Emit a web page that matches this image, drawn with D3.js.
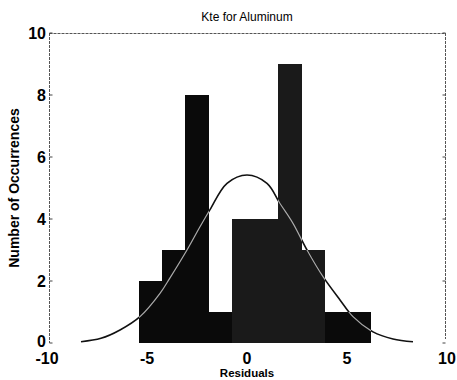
<!DOCTYPE html>
<html><head><meta charset="utf-8">
<script src="https://cdn.jsdelivr.net/npm/d3@7"></script>
<style>body{margin:0;background:#fff}svg{display:block}text{font-family:"Liberation Sans",Arial,sans-serif;fill:#000}</style>
</head><body><svg id="c" width="457" height="380"></svg>
<script>
const binEdges = [-5.4, -4.25, -3.1, -1.9, -0.75, 0.4, 1.55, 2.75, 3.9, 5.05, 6.2];
const counts = [2, 3, 8, 1, 4, 4, 9, 3, 1, 1];
const curveX = [-8.3, -7.3, -6.35, -5.35, -4.35, -3.85, -3.0, -2.35, -1.85, -1.0, 0, 1.0, 1.65, 2.3, 3.0, 3.8, 4.65, 5.3, 6.3, 7.3, 8.3];
const curveY = [0.04, 0.15, 0.42, 0.85, 1.6, 2.1, 3.0, 3.75, 4.3, 5.15, 5.42, 5.15, 4.5, 3.86, 3.0, 2.14, 1.39, 0.85, 0.36, 0.13, 0.04];
const xTicks = [-10, -5, 0, 5, 10];
const yTicks = [0, 2, 4, 6, 8, 10];
const title = "Kte for Aluminum", xLabel = "Residuals", yLabel = "Number of Occurrences";

const svg = d3.select("#c");
const x = d3.scaleLinear().domain([-10, 10]).range([47, 447]);
const y = d3.scaleLinear().domain([0, 10]).range([343, 33]);

const bins = counts.map((c, i) => ({x0: binEdges[i], x1: binEdges[i + 1], c}));

const defs = svg.append("defs");
const clip = defs.append("clipPath").attr("id", "barclip");
clip.selectAll("rect").data(bins).join("rect")
  .attr("x", d => x(d.x0)).attr("y", d => y(d.c))
  .attr("width", d => x(d.x1) - x(d.x0)).attr("height", d => y(0) - y(d.c));

const frame = svg.append("g").attr("stroke", "#555").attr("stroke-width", 1).attr("stroke-dasharray", "3,1").attr("fill", "none");
frame.append("line").attr("x1", 49.5).attr("x2", 49.5).attr("y1", y(10)).attr("y2", y(0));
frame.append("line").attr("x1", 445.5).attr("x2", 445.5).attr("y1", y(10)).attr("y2", y(0) - 4);
frame.append("line").attr("x1", 49.5).attr("x2", 445.5).attr("y1", y(10) + 0.5).attr("y2", y(10) + 0.5);

const tk = svg.append("g").attr("stroke", "#444").attr("stroke-width", 1);
yTicks.forEach(t => {
  tk.append("line").attr("x1", 49.5).attr("x2", 52.5).attr("y1", y(t)).attr("y2", y(t));
  tk.append("line").attr("x1", 445.5).attr("x2", 442.5).attr("y1", y(t)).attr("y2", y(t));
});

svg.append("g").selectAll("rect").data(bins).join("rect")
  .attr("x", d => x(d.x0)).attr("y", d => y(d.c))
  .attr("width", d => x(d.x1) - x(d.x0)).attr("height", d => y(0) - y(d.c))
  .attr("fill", (d, i) => i >= 4 && i <= 7 ? "#1a1a1a" : "#0a0a0a");

const pts = curveX.map((v, i) => [v, curveY[i]]);
const line = d3.line().x(d => x(d[0])).y(d => y(d[1])).curve(d3.curveCatmullRom);
svg.append("path").attr("d", line(pts)).attr("fill", "none").attr("stroke", "#111").attr("stroke-width", 1.6);
svg.append("path").attr("d", line(pts)).attr("fill", "none").attr("stroke", "#aaa").attr("stroke-width", 1.2)
  .attr("clip-path", "url(#barclip)");

svg.append("g").selectAll("text").data(yTicks).join("text")
  .attr("x", 46).attr("y", d => y(d) + (d === 0 ? 4 : 6)).attr("text-anchor", "end")
  .attr("font-size", 16).attr("font-weight", "bold").text(d => d);
svg.append("g").selectAll("text").data(xTicks).join("text")
  .attr("x", d => x(d)).attr("y", 364).attr("text-anchor", "middle")
  .attr("font-size", 16).attr("font-weight", "bold").text(d => d < 0 ? "-" + Math.abs(d) : d);

svg.append("text").attr("x", 247).attr("y", 21).attr("text-anchor", "middle").attr("font-size", 12).text(title);
svg.append("text").attr("x", 247).attr("y", 377).attr("text-anchor", "middle").attr("font-size", 11.5).attr("font-weight", "bold").text(xLabel);
svg.append("text").attr("transform", "translate(19,188) rotate(-90)").attr("text-anchor", "middle")
  .attr("font-size", 14).attr("font-weight", "bold").text(yLabel);
</script></body></html>
